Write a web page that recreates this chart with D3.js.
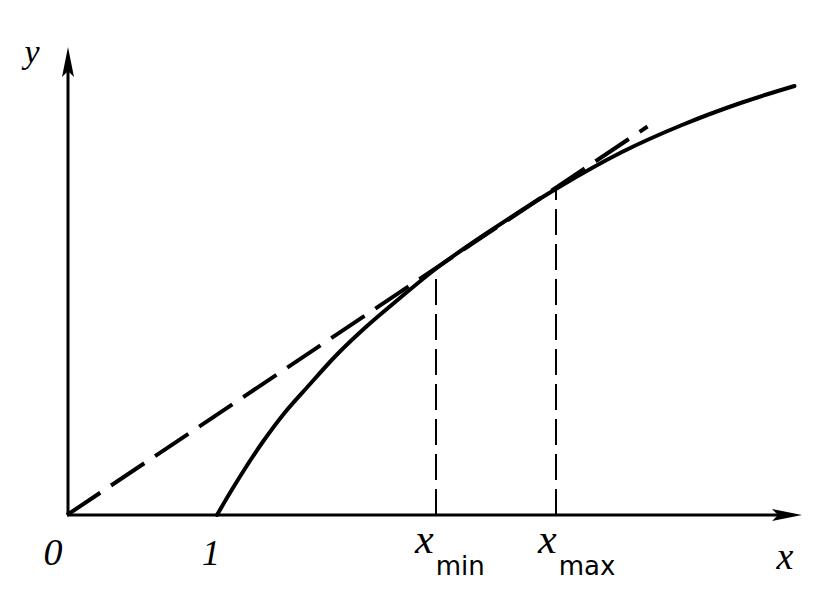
<!DOCTYPE html>
<html>
<head>
<meta charset="utf-8">
<script src="https://cdn.jsdelivr.net/npm/d3@7"></script>
<style>
  html, body { margin: 0; padding: 0; background: #fff; }
  svg { display: block; }
  text { fill: #000; }
</style>
</head>
<body>
<script>
// ---- data ----
const curveX = [1.0, 1.1, 1.2, 1.3, 1.45, 1.6, 1.8, 2.0, 2.2, 2.47, 2.8, 3.27, 3.7, 4.1, 4.5, 4.85];
const curveY = [0, 0.17, 0.33, 0.48, 0.68, 0.85, 1.07, 1.26, 1.43, 1.65, 1.88, 2.18, 2.42, 2.6, 2.75, 2.86];
const chordX = [0, 3.87];
const chordY = [0, 2.59];
const xMin = 2.46, xMax = 3.26;
const yAtMin = 1.65, yAtMax = 2.17;
const tickValues = [0, 1, xMin, xMax];
const tickMain = ["0", "1", "x", "x"];
const tickSub = ["", "", "min", "max"];
const xDomain = [0, 4.9], yDomain = [0, 3.12];

// ---- drawing ----
const W = 839, H = 596;
const svg = d3.select("body").append("svg").attr("width", W).attr("height", H);
const x = d3.scaleLinear().domain(xDomain).range([67, 802]);
const y = d3.scaleLinear().domain(yDomain).range([515, 47]);

// axes
svg.append("line").attr("x1", x(0)).attr("y1", y(0)).attr("x2", x(xDomain[1]) - 20).attr("y2", y(0))
  .attr("stroke", "#000").attr("stroke-width", 3);
svg.append("line").attr("x1", x(0) + 1).attr("y1", y(0)).attr("x2", x(0) + 1).attr("y2", y(yDomain[1]) + 20)
  .attr("stroke", "#000").attr("stroke-width", 3);
// arrowheads
const xe = x(xDomain[1]), ye = y(0);
svg.append("path").attr("d", `M${xe},${ye} L${xe - 30},${ye - 6} L${xe - 24},${ye} L${xe - 30},${ye + 6} Z`).attr("fill", "#000");
const ax = x(0) + 1, ay = y(yDomain[1]);
svg.append("path").attr("d", `M${ax},${ay} L${ax - 6},${ay + 30} L${ax},${ay + 24} L${ax + 6},${ay + 30} Z`).attr("fill", "#000");

// dashed verticals
[[xMin, yAtMin], [xMax, yAtMax]].forEach(([vx, vy]) => {
  svg.append("line").attr("x1", x(vx)).attr("x2", x(vx)).attr("y1", y(0)).attr("y2", y(vy))
    .attr("stroke", "#000").attr("stroke-width", 2).attr("stroke-dasharray", "26,9");
});

// dashed chord/tangent line
const line = d3.line().x(d => x(d[0])).y(d => y(d[1]));
svg.append("path").datum(chordX.map((v, i) => [v, chordY[i]]))
  .attr("d", line).attr("fill", "none").attr("stroke", "#000").attr("stroke-width", 4)
  .attr("stroke-dasharray", "40,13");

// curve
const curveLine = d3.line().x(d => x(d[0])).y(d => y(d[1])).curve(d3.curveCatmullRom);
svg.append("path").datum(curveX.map((v, i) => [v, curveY[i]]))
  .attr("d", curveLine).attr("fill", "none").attr("stroke", "#000").attr("stroke-width", 4)
  .attr("stroke-linecap", "round");

// tick labels
const labelOffsets = [-14, -6, -21, -18];
const labelSizes = [38, 36, 42, 42];
tickValues.forEach((v, i) => {
  const t = svg.append("text")
    .attr("x", x(v) + labelOffsets[i]).attr("y", i < 2 ? 565 : 553)
    .attr("text-anchor", i < 2 ? "middle" : "start")
    .attr("font-family", "Liberation Serif, DejaVu Serif, serif")
    .attr("font-style", "italic")
    .attr("font-size", labelSizes[i]);
  t.append("tspan").text(tickMain[i]);
  if (tickSub[i]) {
    t.append("tspan").attr("dy", 22).attr("dx", 2).attr("font-style", "normal")
      .attr("font-size", 26).attr("font-family", "DejaVu Sans, sans-serif").text(tickSub[i]);
  }
});

// axis names
svg.append("text").attr("x", 785).attr("y", 569).attr("text-anchor", "middle")
  .attr("font-family", "Liberation Serif, DejaVu Serif, serif").attr("font-style", "italic")
  .attr("font-size", 38).text("x");
svg.append("text").attr("x", 32).attr("y", 63).attr("text-anchor", "middle")
  .attr("font-family", "Liberation Serif, DejaVu Serif, serif").attr("font-style", "italic")
  .attr("font-size", 34).text("y");
</script>
</body>
</html>
